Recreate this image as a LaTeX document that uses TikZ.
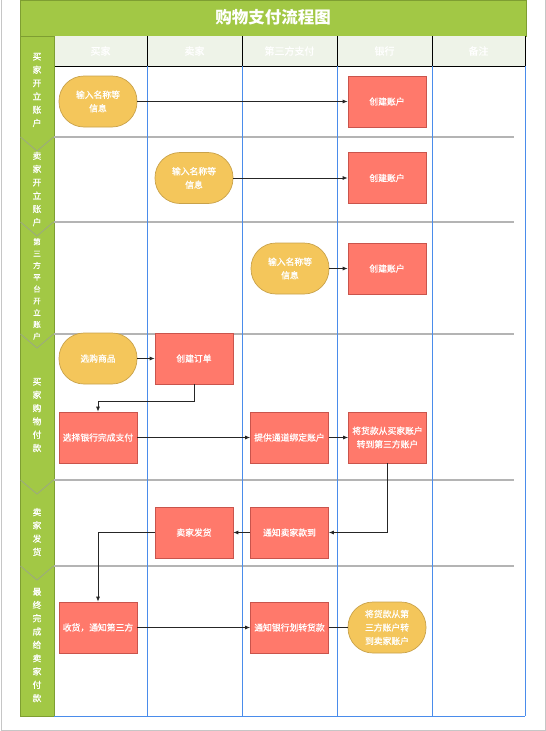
\documentclass[tikz,border=0pt]{standalone}
\usepackage{fontspec}
\setmainfont{Noto Sans CJK SC}
\newfontfamily\boxfont[FakeBold=0.8]{Noto Sans CJK SC}
\usetikzlibrary{arrows.meta}

\definecolor{titlegreen}{HTML}{A2C845}
\definecolor{olive}{HTML}{7E9E32}
\definecolor{headbg}{HTML}{EEF3E8}
\definecolor{colblue}{HTML}{4A8CEB}
\definecolor{lanegray}{HTML}{B4B4B4}
\definecolor{chevgray}{HTML}{9CA882}
\definecolor{boxfill}{HTML}{FF796B}
\definecolor{boxline}{HTML}{C9544C}
\definecolor{pillfill}{HTML}{F4C65B}
\definecolor{pillline}{HTML}{C9A24A}

\begin{document}
\begin{tikzpicture}[>=Latex, x=1pt, y=-1pt,
	box/.style={draw=boxline, fill=boxfill, line width=0.7pt, minimum width=78pt, minimum height=51pt,
		inner sep=1pt, text=white, align=center, font=\boxfont\fontsize{8.8}{13.5}\selectfont},
	pill/.style={box, draw=pillline, fill=pillfill, rounded corners=25pt},
	flow/.style={->, line width=0.8pt, black!85, >={Latex[length=5pt,width=4pt]}},
	lanelabel/.style={text=white, align=center, inner sep=0pt, font=\boxfont\fontsize{8.8}{13.3}\selectfont},
	headlabel/.style={text=white, inner sep=0pt, font=\boxfont\fontsize{10}{12}\selectfont}]
	
	\useasboundingbox (0,0) rectangle (546,731);
	
	% page frame
	\draw[gray!45, line width=1pt] (1,0) -- (1,730) -- (545,730) -- (545,0);
	
	% ----- TITLE
	\draw[fill=titlegreen, draw=olive, line width=0.8pt] (20,0) rectangle (526,36);
	\node[text=white, font=\fontsize{16.5}{18}\selectfont\bfseries] (title) at (273,17) {购物支付流程图};
	
	% ----- HEADER ROW
	\fill[headbg] (54,36) rectangle (525,66);
	\draw[black, line width=0.8pt] (54,66) -- (525,66);
	\foreach \x in {147,242,337,432,525}
		\draw[black, line width=0.8pt] (\x,36) -- (\x,66);
	\node[headlabel] (hBuyer)  at (100.5,51) {买家};
	\node[headlabel] (hSeller) at (194.5,51) {卖家};
	\node[headlabel] (hThird)  at (289.5,51) {第三方支付};
	\node[headlabel] (hBank)   at (384.5,51) {银行};
	\node[headlabel] (hNote)   at (478.5,51) {备注};
	
	% ----- LANE COLUMN
	\draw[fill=titlegreen, draw=olive, line width=0.8pt] (20,36) rectangle (54,716);
	
	% lane separators and chevrons
	\foreach \y in {137,222,334,480,566} {
		\draw[lanegray, line width=1.5pt] (54,\y) -- (514,\y);
		\draw[chevgray, line width=0.8pt] (20.5,\y) -- (37,\y+14) -- (53.5,\y);
	}
	
	% swimlane columns
	\foreach \x in {147,242,337,432,525}
		\draw[colblue, line width=0.8pt] (\x,66) -- (\x,716);
	\draw[colblue, line width=0.8pt] (54,716) -- (525,716);
	
	% lane labels
	\node[lanelabel] (lane1) at (37,90)  {买\\家\\开\\立\\账\\户};
	\node[lanelabel] (lane2) at (37,189) {卖\\家\\开\\立\\账\\户};
	\node[lanelabel, font=\boxfont\fontsize{7.6}{11.8}\selectfont] (lane3) at (37,289) {第\\三\\方\\平\\台\\开\\立\\账\\户};
	\node[lanelabel] (lane4) at (37,415) {买\\家\\购\\物\\付\\款};
	\node[lanelabel] (lane5) at (37,532) {卖\\家\\发\\货};
	\node[lanelabel] (lane6) at (37,645) {最\\终\\完\\成\\给\\卖\\家\\付\\款};
	
	% ----- LANE 1: buyer account
	\node[pill] (buyerInfo) at (98,101.5) {输入名称等\\信息};
	\node[box]  (buyerAcct) at (387,101.5) {创建账户};
	\draw[flow] (buyerInfo) -- (buyerAcct);
	
	% ----- LANE 2: seller account
	\node[pill] (sellerInfo) at (194,178) {输入名称等\\信息};
	\node[box]  (sellerAcct) at (387,178) {创建账户};
	\draw[flow] (sellerInfo) -- (sellerAcct);
	
	% ----- LANE 3: third party account
	\node[pill] (thirdInfo) at (290,268.5) {输入名称等\\信息};
	\node[box]  (thirdAcct) at (387,268.5) {创建账户};
	\draw[flow] (thirdInfo) -- (thirdAcct);
	
	% ----- LANE 4: buyer pays
	\node[pill] (shop)     at (98,358.5)   {选购商品};
	\node[box]  (order)    at (194,358.5)  {创建订单};
	\node[box]  (pay)      at (98,437.5)   {选择银行完成支付};
	\node[box]  (channel)  at (289.5,437.5) {提供通道绑定账户};
	\node[box]  (transfer) at (387.5,437.5) {将货款从买家账户\\转到第三方账户};
	\draw[flow] (shop) -- (order);
	\draw[flow] (order.south) -- ++(0,17) -| (pay.north);
	\draw[flow] (pay) -- (channel);
	\draw[flow] (channel) -- (transfer);
	
	% ----- LANE 5: seller ships
	\node[box] (ship)   at (194,532.5)   {卖家发货};
	\node[box] (notify) at (289.5,532.5) {通知卖家款到};
	\draw[flow] (transfer.south) |- (notify.east);
	\draw[flow] (notify) -- (ship);
	
	% ----- LANE 6: final payment
	\node[box]  (receive) at (98,627.5)    {收货，通知第三方};
	\node[box]  (release) at (289.5,627.5) {通知银行划转货款};
	\node[pill] (payout)  at (387,627.5)   {将货款从第\\三方账户转\\到卖家账户};
	\draw[flow] (ship.west) -| (receive.north);
	\draw[flow] (receive) -- (release);
	\draw[line width=0.8pt, black!85] (release) -- (payout);
	
\end{tikzpicture}
\end{document}
